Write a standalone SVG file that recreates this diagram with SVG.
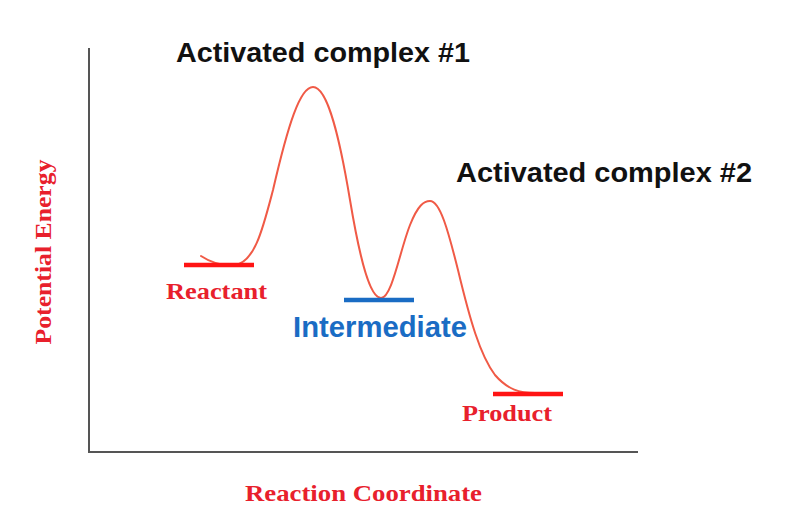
<svg xmlns="http://www.w3.org/2000/svg" width="792" height="521" viewBox="0 0 792 521">
<style>
.axis{stroke:#555;stroke-width:2;fill:none}
.curve{stroke:#f05a46;stroke-width:2;fill:none;stroke-linecap:round}
.bar{stroke-width:4.5;fill:none}
.red{stroke:#ff1414}
.blue{stroke:#1a6cc4}
.title{font-family:"Liberation Sans",Arial,sans-serif;font-weight:bold;font-size:28px;fill:#111}
.serif{font-family:"Liberation Serif","Times New Roman",serif;font-weight:bold;font-size:24px;fill:#e8202c}
.inter{font-family:"Liberation Sans",Arial,sans-serif;font-weight:bold;font-size:29px;fill:#1a6cc4}
</style>
<rect width="792" height="521" fill="#fff"/>
<g id="axes">
<path class="axis" d="M89,48 L89,452 L638,452"/>
</g>
<g id="connectors">
<path class="curve" d="M201,256 C210,262 222,266 235,265 C255,262 263,228 273,190 C288,125 300,87 313,87 C328,87 340,140 350,200 C360,260 370,298 381,298 C392,298 400,250 410,225 C418,205 424,201 430,201 C440,201 448,230 458,270 C470,320 480,355 495,375 C508,390 520,393 535,393"/>
</g>
<g id="reactant">
<line class="bar red" x1="184" y1="265" x2="254" y2="265"/>
<text class="serif" x="166" y="299" textLength="101" lengthAdjust="spacingAndGlyphs">Reactant</text>
</g>
<g id="intermediate">
<line class="bar blue" x1="344" y1="300" x2="414" y2="300"/>
<text class="inter" x="293" y="337" textLength="174" lengthAdjust="spacingAndGlyphs">Intermediate</text>
</g>
<g id="product">
<line class="bar red" x1="493" y1="394" x2="563" y2="394"/>
<text class="serif" x="462" y="421" textLength="90" lengthAdjust="spacingAndGlyphs">Product</text>
</g>
<g id="complex1">
<text class="title" x="176" y="62" textLength="294" lengthAdjust="spacingAndGlyphs">Activated complex #1</text>
</g>
<g id="complex2">
<text class="title" x="456" y="182" textLength="296" lengthAdjust="spacingAndGlyphs">Activated complex #2</text>
</g>
<g id="labels">
<text class="serif" x="245" y="501" textLength="237" lengthAdjust="spacingAndGlyphs">Reaction Coordinate</text>
<text class="serif" transform="translate(51,252) rotate(-90)" x="0" y="0" text-anchor="middle" textLength="185" lengthAdjust="spacingAndGlyphs">Potential Energy</text>
</g>
</svg>
